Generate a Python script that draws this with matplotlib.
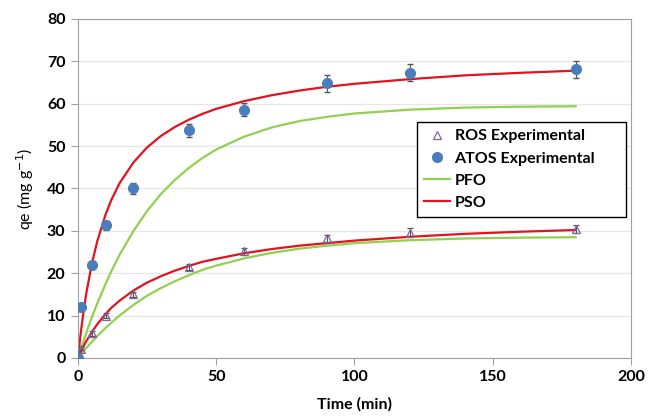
import numpy as np
import matplotlib
matplotlib.use("Agg")
import matplotlib.pyplot as plt

# experimental points
t_exp = [0, 1, 5, 10, 20, 40, 60, 90, 120, 180]
atos_qe = [0, 12, 22, 31.3, 40, 53.7, 58.6, 64.8, 67.3, 68.1]
atos_err = [0.5, 0.8, 0.8, 1.0, 1.2, 1.6, 1.6, 2.0, 2.0, 2.1]
ros_qe = [0, 2.2, 5.8, 10.0, 15.0, 21.5, 25.2, 28.2, 29.6, 30.4]
ros_err = [0.3, 0.4, 0.5, 0.6, 0.6, 0.7, 0.8, 0.9, 1.0, 1.0]

# model curves
t_fit = [0, 1, 2, 3, 5, 7, 10, 12, 15, 20, 25, 30, 35, 40, 45, 50, 60, 70, 80, 90,
         100, 120, 140, 160, 180]
atos_pso = [0, 5.9, 10.9, 15.2, 22.2, 27.6, 33.9, 37.2, 41.2, 46.1, 49.7, 52.4,
            54.5, 56.2, 57.6, 58.8, 60.6, 62.0, 63.1, 64.0, 64.7, 65.8, 66.7, 67.3, 67.8]
atos_pfo = [0, 2.0, 4.0, 5.9, 9.6, 12.9, 17.5, 20.4, 24.3, 29.9, 34.7, 38.7,
            42.0, 44.8, 47.2, 49.2, 52.2, 54.4, 55.9, 56.9, 57.7, 58.6, 59.1, 59.3, 59.4]
ros_pso = [0, 1.4, 2.75, 3.96, 6.1, 8.0, 10.4, 11.8, 13.5, 15.9, 17.8, 19.3,
           20.6, 21.7, 22.7, 23.4, 24.7, 25.7, 26.5, 27.1, 27.7, 28.6, 29.3, 29.8, 30.2]
ros_pfo = [0, 0.8, 1.6, 2.36, 3.8, 5.2, 7.1, 8.3, 10.0, 12.5, 14.7, 16.5,
           18.1, 19.5, 20.8, 21.8, 23.5, 24.8, 25.8, 26.5, 27.1, 27.8, 28.2, 28.4, 28.5]

plt.rcParams['font.family'] = ['Lato', 'DejaVu Sans']

fig = plt.figure(figsize=(6.58, 4.19), dpi=100)
ax = fig.add_axes([0.1185, 0.1456, 0.8405, 0.8091])

green = '#92D050'
red = '#E0141E'
blue = '#4A7EBB'
purple = '#8064A2'

ax.plot(t_fit, atos_pfo, color=green, lw=1.6, zorder=2)
ax.plot(t_fit, ros_pfo, color=green, lw=1.6, zorder=2)
ax.plot(t_fit, atos_pso, color=red, lw=1.6, zorder=2)
ax.plot(t_fit, ros_pso, color=red, lw=1.6, zorder=2)

ax.errorbar(t_exp, ros_qe, yerr=ros_err, fmt='^', ms=6, mfc='none', mec=purple,
            mew=0.9, ecolor='#555555', elinewidth=0.8, capsize=2.5, zorder=3)
ax.errorbar(t_exp, atos_qe, yerr=atos_err, fmt='o', ms=7, color=blue,
            ecolor='#555555', elinewidth=0.8, capsize=2.5, zorder=3)

ax.set_xlim(0, 200)
ax.set_ylim(0, 80)
ax.set_xticks(range(0, 201, 50))
ax.set_yticks(range(0, 81, 10))
ax.yaxis.grid(True, color='#E6E6E6', lw=0.9)
ax.set_axisbelow(True)
for s in ax.spines.values():
    s.set_color('#A0A0A0')
ax.tick_params(direction='out', color='#A0A0A0', length=5, labelsize=11.5, pad=4)
for lab in ax.get_xticklabels() + ax.get_yticklabels():
    lab.set_fontweight('bold')

ax.set_xlabel('Time (min)', fontsize=11.5, fontweight='bold', labelpad=9)
ax.set_ylabel('qe (mg g$^{-1}$)', fontsize=11.5, labelpad=8)

handles = [
    plt.Line2D([], [], ls='none', marker='^', ms=6, mfc='none', mec=purple, mew=0.9),
    plt.Line2D([], [], ls='none', marker='o', ms=7, color=blue),
    plt.Line2D([], [], color=green, lw=1.6),
    plt.Line2D([], [], color=red, lw=1.6),
]
labels = ['ROS Experimental', 'ATOS Experimental', 'PFO', 'PSO']
leg = ax.legend(handles, labels, loc='upper left', mode='expand',
                bbox_to_anchor=(0.613, 0.419, 0.378, 0.277),
                frameon=True, fancybox=False, edgecolor='black', framealpha=1,
                prop={'weight': 'bold', 'size': 11.5}, handlelength=1.6,
                handletextpad=0.3, borderpad=0.45, labelspacing=0.5,
                borderaxespad=0)
leg.get_frame().set_linewidth(1.0)

fig.savefig('out.png', dpi=100)
